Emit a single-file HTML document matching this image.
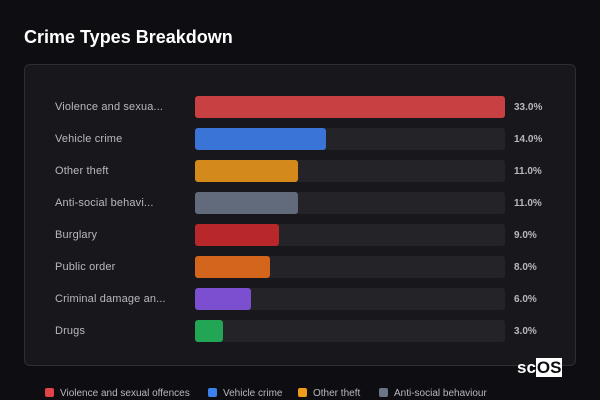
<!DOCTYPE html>
<html><head><meta charset="utf-8"><style>
body{margin:0;width:600px;height:400px;background:#0e0d11;font-family:"Liberation Sans","DejaVu Sans",sans-serif;position:relative;overflow:hidden}
.t{position:absolute;left:24px;top:27px;color:#fff;font-weight:bold;font-size:18px}
.card{position:absolute;left:24px;top:64px;width:550px;height:300px;border:1px solid #2f2e33;border-radius:6px;background:#18171b}
.row{position:absolute;left:0;height:22px;width:100%}
.lb{position:absolute;left:30px;top:5px;color:#b9b8bd;font-size:11px;letter-spacing:0.15px}
.tr{position:absolute;left:170px;top:0;width:310px;height:22px;background:#242327;border-radius:3px}
.b{position:absolute;left:0;top:0;height:22px;border-radius:3px}
.p{position:absolute;left:489px;top:6px;color:#b9b8bd;font-size:10px;font-weight:bold}
.lg{position:absolute;top:388px;font-size:10px;color:#b9b8bd}
.lg i{display:inline-block;width:9px;height:9px;border-radius:2px;margin-right:6px;vertical-align:-1px}
.logo{position:absolute;left:517px;top:358px;color:#fff;font-weight:bold;font-size:17px}
.logo span{background:#fff;color:#0e0d11;padding:0 1px}
</style></head><body>
<div class="t">Crime Types Breakdown</div>
<div class="card">
<div class="row" style="top:31px"><div class="lb">Violence and sexua...</div><div class="tr"><div class="b" style="width:310px;background:#c94043"></div></div><div class="p">33.0%</div></div>
<div class="row" style="top:63px"><div class="lb">Vehicle crime</div><div class="tr"><div class="b" style="width:131px;background:#3a74d6"></div></div><div class="p">14.0%</div></div>
<div class="row" style="top:95px"><div class="lb">Other theft</div><div class="tr"><div class="b" style="width:103px;background:#d38a1a"></div></div><div class="p">11.0%</div></div>
<div class="row" style="top:127px"><div class="lb">Anti-social behavi...</div><div class="tr"><div class="b" style="width:103px;background:#616b7b"></div></div><div class="p">11.0%</div></div>
<div class="row" style="top:159px"><div class="lb">Burglary</div><div class="tr"><div class="b" style="width:84px;background:#b8272a"></div></div><div class="p">9.0%</div></div>
<div class="row" style="top:191px"><div class="lb">Public order</div><div class="tr"><div class="b" style="width:75px;background:#d4651c"></div></div><div class="p">8.0%</div></div>
<div class="row" style="top:223px"><div class="lb">Criminal damage an...</div><div class="tr"><div class="b" style="width:56px;background:#7b4fd0"></div></div><div class="p">6.0%</div></div>
<div class="row" style="top:255px"><div class="lb">Drugs</div><div class="tr"><div class="b" style="width:28px;background:#22a555"></div></div><div class="p">3.0%</div></div>
</div>
<div class="lg" style="left:45px"><i style="background:#e04448"></i>Violence and sexual offences</div>
<div class="lg" style="left:208px"><i style="background:#3b82f0"></i>Vehicle crime</div>
<div class="lg" style="left:298px"><i style="background:#f09a1a"></i>Other theft</div>
<div class="lg" style="left:379px"><i style="background:#6b7585"></i>Anti-social behaviour</div>
<div class="logo">sc<span>OS</span></div>
</body></html>
